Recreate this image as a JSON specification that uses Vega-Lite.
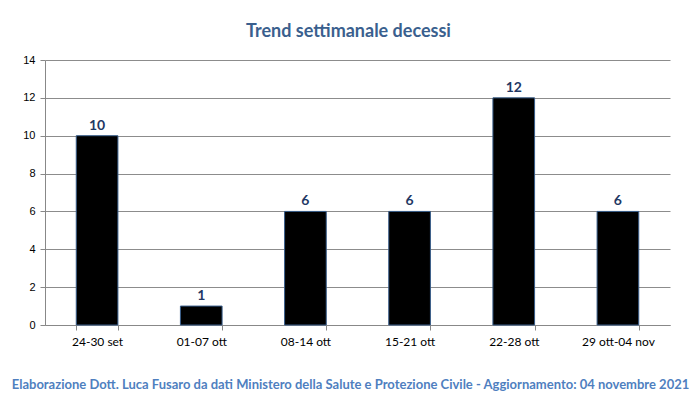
{
  "$schema": "https://vega.github.io/schema/vega-lite/v6.json",
  "autosize": "none",
  "width": 625,
  "height": 265,
  "padding": {"left": 45, "top": 60, "right": 26, "bottom": 70},
  "background": "white",
  "title": {
    "text": "Trend settimanale decessi",
    "font": "Lato",
    "fontSize": 18,
    "fontWeight": "bold",
    "color": "#3A5F8E",
    "anchor": "middle",
    "dx": -9,
    "offset": 13
  },
  "data": {
    "values": [
      {"settimana": "24-30 set", "decessi": 10},
      {"settimana": "01-07 ott", "decessi": 1},
      {"settimana": "08-14 ott", "decessi": 6},
      {"settimana": "15-21 ott", "decessi": 6},
      {"settimana": "22-28 ott", "decessi": 12},
      {"settimana": "29 ott-04 nov", "decessi": 6}
    ]
  },
  "encoding": {
    "x": {
      "field": "settimana",
      "type": "nominal",
      "sort": null,
      "scale": {"paddingInner": 0.6, "paddingOuter": 0.3},
      "axis": {
        "title": "Elaborazione Dott. Luca Fusaro da dati Ministero della Salute e Protezione Civile - Aggiornamento: 04 novembre 2021",
        "titleFont": "Lato",
        "titleFontSize": 13,
        "titleFontWeight": "bold",
        "titleColor": "#4F7FBF",
        "titlePadding": 31,
        "titleX": 305,
        "labelAngle": 0,
        "labelFont": "Lato",
        "labelFontSize": 12,
        "labelColor": "#000000",
        "labelPadding": 6,
        "tickBand": "extent",
        "tickColor": "#888888",
        "tickSize": 5,
        "domainColor": "#888888"
      }
    },
    "y": {
      "field": "decessi",
      "type": "quantitative",
      "scale": {"domain": [0, 14]},
      "axis": {
        "title": null,
        "values": [0, 2, 4, 6, 8, 10, 12, 14],
        "labelFont": "Liberation Sans",
        "labelFontSize": 11,
        "labelColor": "#000000",
        "labelPadding": 5,
        "tickColor": "#888888",
        "tickSize": 5,
        "domainColor": "#888888",
        "gridColor": "#8C8C8C",
        "gridWidth": 1
      }
    }
  },
  "layer": [
    {
      "mark": {"type": "bar", "color": "#000000", "stroke": "#385D8A", "strokeWidth": 1}
    },
    {
      "mark": {"type": "text", "dy": -10, "font": "Lato", "fontSize": 14, "fontWeight": "bold", "color": "#1F3864"},
      "encoding": {"text": {"field": "decessi", "type": "quantitative"}}
    }
  ],
  "config": {
    "view": {"stroke": null}
  }
}
